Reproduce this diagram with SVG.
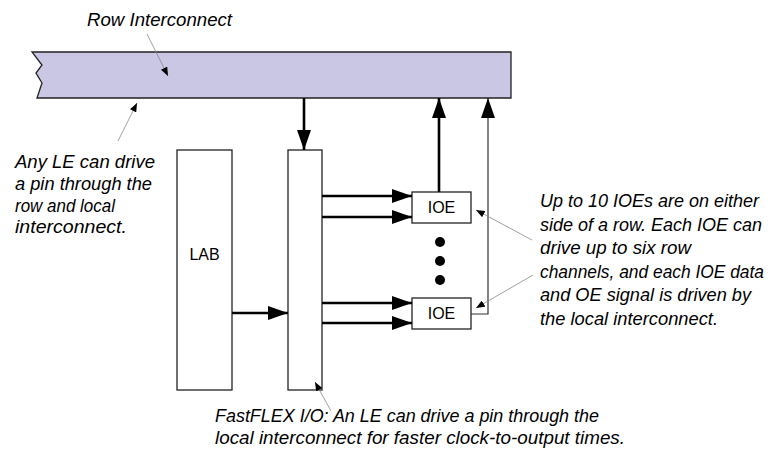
<svg xmlns="http://www.w3.org/2000/svg" width="780" height="473" viewBox="0 0 780 473">
<defs>
<style>
.box{fill:#fff;stroke:#222;stroke-width:1.3}
.bus{fill:#c9c7e3;stroke:#222;stroke-width:1.3}
.thick{stroke:#000;stroke-width:2.6;fill:none}
.thin{stroke:#333;stroke-width:1.2;fill:none}
.ptr{stroke:#888;stroke-width:0.8;fill:none}
.lbl{font-family:"Liberation Sans",Arial,sans-serif;font-size:16px;fill:#000}
.note{font-family:"Liberation Sans",Arial,sans-serif;font-size:19px;font-style:italic;fill:#000}
.side{font-size:18px}
</style>
<marker id="big" viewBox="0 0 20 14" refX="20" refY="7" markerWidth="20" markerHeight="14" markerUnits="userSpaceOnUse" orient="auto"><path d="M0,0L20,7L0,14z" fill="#000"/></marker>
<marker id="sm" viewBox="0 0 10 8" refX="10" refY="4" markerWidth="9" markerHeight="7" markerUnits="userSpaceOnUse" orient="auto"><path d="M0,0L10,4L0,8z" fill="#000"/></marker>
</defs>
<rect width="780" height="473" fill="#fff"/>
<g id="row-interconnect">
<path class="bus" d="M32,52 L511,52 L511,98 L37,98 L42,83 L36,73 L42,65 Z"/>
</g>
<g id="lab">
<rect class="box" x="177" y="150" width="55" height="240"/>
<text class="lbl" x="204.5" y="260" text-anchor="middle">LAB</text>
</g>
<g id="local">
<rect class="box" x="288" y="150" width="34" height="240"/>
</g>
<g id="ioe1">
<rect class="box" x="412" y="192" width="59" height="31"/>
<text class="lbl" x="441.5" y="213" text-anchor="middle">IOE</text>
</g>
<g id="ioe2">
<rect class="box" x="412" y="298" width="59" height="31"/>
<text class="lbl" x="441.5" y="319" text-anchor="middle">IOE</text>
</g>
<g id="dots">
<circle cx="440" cy="242" r="5"/>
<circle cx="440" cy="261" r="5"/>
<circle cx="440" cy="280" r="5"/>
</g>
<g id="connectors">
<line class="thick" x1="304" y1="98" x2="304" y2="150" marker-end="url(#big)"/>
<line class="thick" x1="232" y1="313" x2="288" y2="313" marker-end="url(#big)"/>
<line class="thick" x1="322" y1="196" x2="412" y2="196" marker-end="url(#big)"/>
<line class="thick" x1="322" y1="217" x2="412" y2="217" marker-end="url(#big)"/>
<line class="thick" x1="322" y1="303" x2="412" y2="303" marker-end="url(#big)"/>
<line class="thick" x1="322" y1="323" x2="412" y2="323" marker-end="url(#big)"/>
<line class="thick" x1="439" y1="192" x2="439" y2="98" marker-end="url(#big)"/>
<polyline class="thin" points="471,314 488,314 488,98" marker-end="url(#big)"/>
<line class="ptr" x1="147" y1="34" x2="168" y2="76" marker-end="url(#sm)"/>
<line class="ptr" x1="118" y1="141" x2="137" y2="103" marker-end="url(#sm)"/>
<line class="ptr" x1="532" y1="240" x2="476" y2="210" marker-end="url(#sm)"/>
<line class="ptr" x1="533" y1="275" x2="476" y2="308" marker-end="url(#sm)"/>
<line class="ptr" x1="331" y1="411" x2="315" y2="382" marker-end="url(#sm)"/>
</g>
<g id="labels">
<text class="note" x="87" y="26" textLength="145" lengthAdjust="spacingAndGlyphs">Row Interconnect</text>
<text class="note" x="15" y="168" textLength="140" lengthAdjust="spacingAndGlyphs">Any LE can drive</text>
<text class="note" x="15" y="190" textLength="137" lengthAdjust="spacingAndGlyphs">a pin through the</text>
<text class="note" x="15" y="211.5" textLength="100" lengthAdjust="spacingAndGlyphs">row and local</text>
<text class="note" x="15" y="233" textLength="112" lengthAdjust="spacingAndGlyphs">interconnect.</text>
<text class="note side" x="540" y="207" textLength="219" lengthAdjust="spacingAndGlyphs">Up to 10 IOEs are on either</text>
<text class="note side" x="540" y="230.5" textLength="222" lengthAdjust="spacingAndGlyphs">side of a row. Each IOE can</text>
<text class="note side" x="540" y="254" textLength="151" lengthAdjust="spacingAndGlyphs">drive up to six row</text>
<text class="note side" x="540" y="277.5" textLength="224" lengthAdjust="spacingAndGlyphs">channels, and each IOE data</text>
<text class="note side" x="540" y="301" textLength="211" lengthAdjust="spacingAndGlyphs">and OE signal is driven by</text>
<text class="note side" x="540" y="324.5" textLength="178" lengthAdjust="spacingAndGlyphs">the local interconnect.</text>
<text class="note" x="215" y="422" textLength="384" lengthAdjust="spacingAndGlyphs">FastFLEX I/O: An LE can drive a pin through the</text>
<text class="note" x="215" y="444" textLength="410" lengthAdjust="spacingAndGlyphs">local interconnect for faster clock-to-output times.</text>
</g>
</svg>
